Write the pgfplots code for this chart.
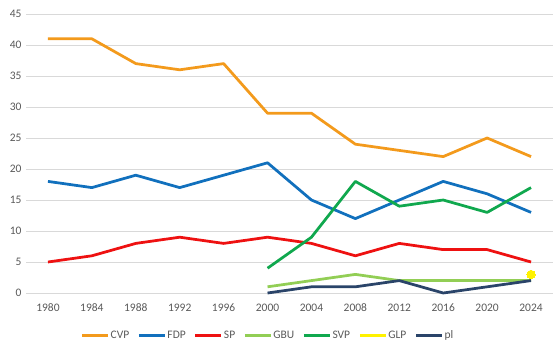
\documentclass[border=0pt]{standalone}
\usepackage{pgfplots}
\pgfplotsset{compat=1.18}
\usepackage{fontspec}
\setmainfont{Carlito}
\definecolor{cvp}{HTML}{F39A1C}
\definecolor{fdp}{HTML}{1170BD}
\definecolor{sp}{HTML}{EE1111}
\definecolor{gbu}{HTML}{92CE55}
\definecolor{svp}{HTML}{10A84E}
\definecolor{glp}{HTML}{FFF200}
\definecolor{pl}{HTML}{2A4469}
\definecolor{grd}{HTML}{D9D9D9}
\definecolor{txt}{HTML}{595959}
\begin{document}
\begin{tikzpicture}[x=1pt,y=1pt]
\begin{axis}[
  at={(0,0)}, anchor=south west,
  scale only axis, width=527pt, height=279pt,
  xmin=-0.5, xmax=11.5, ymin=0, ymax=45,
  xtick={0,...,11},
  xticklabels={1980,1984,1988,1992,1996,2000,2004,2008,2012,2016,2020,2024},
  ytick={0,5,...,45},
  ymajorgrids, grid style={grd, line width=0.75pt},
  axis line style={draw=none},
  axis x line*=bottom, axis y line*=left,
  major tick length=0pt,
  tick label style={font=\fontsize{11.5}{13}\selectfont, text=txt},
  /pgf/number format/assume math mode=true,
  xticklabel style={yshift=-7pt},
  yticklabel style={xshift=-1pt},
  clip=false,
  legend columns=7,
  legend style={draw=none, fill=none, at={(axis description cs:0.459,-0.152)}, anchor=center,
    font=\fontsize{11.5}{13}\selectfont, text=txt,
    /tikz/every odd column/.append style={column sep=-1pt},
    /tikz/every even column/.append style={column sep=6pt}},
  legend image code/.code={\draw[#1, line width=3.2pt] (0pt,0pt) -- (26pt,0pt);},
  every axis plot/.append style={line width=2.75pt, line join=round},
]
\addplot[cvp, mark=none] coordinates {(0,41)(1,41)(2,37)(3,36)(4,37)(5,29)(6,29)(7,24)(8,23)(9,22)(10,25)(11,22)};
\addlegendentry{CVP}
\addplot[fdp, mark=none] coordinates {(0,18)(1,17)(2,19)(3,17)(4,19)(5,21)(6,15)(7,12)(8,15)(9,18)(10,16)(11,13)};
\addlegendentry{FDP}
\addplot[sp, mark=none] coordinates {(0,5)(1,6)(2,8)(3,9)(4,8)(5,9)(6,8)(7,6)(8,8)(9,7)(10,7)(11,5)};
\addlegendentry{SP}
\addplot[gbu, mark=none] coordinates {(5,1)(6,2)(7,3)(8,2)(9,2)(10,2)(11,2)};
\addlegendentry{GBU}
\addplot[svp, mark=none] coordinates {(5,4)(6,9)(7,18)(8,14)(9,15)(10,13)(11,17)};
\addlegendentry{SVP}
\addplot[glp, only marks, mark=*, mark size=4.2pt, mark options={draw=glp, fill=glp, line width=0pt}, legend image code/.code={\draw[glp, line width=3.2pt] (0pt,0pt) -- (26pt,0pt);}] coordinates {(11,3)};
\addlegendentry{GLP}
\addplot[pl, mark=none] coordinates {(5,0)(6,1)(7,1)(8,2)(9,0)(10,1)(11,2)};
\addlegendentry{pl}
\end{axis}
\path[use as bounding box] (-26pt,-61pt) rectangle (528pt,293pt);
\end{tikzpicture}
\end{document}
